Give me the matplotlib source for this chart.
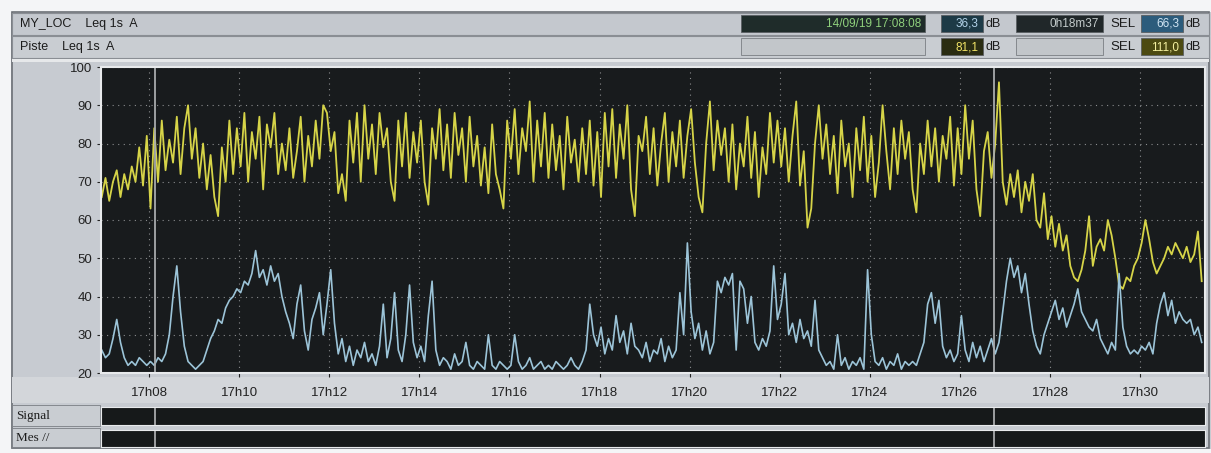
import numpy as np
import matplotlib
matplotlib.use("Agg")
import matplotlib.pyplot as plt
from matplotlib.patches import Rectangle

W, H = 1211, 453

# Leq 1s A levels (dB), one reading every 5 s starting 17:06:57
t_start = 6.95          # minutes after 17:00
t_step = 5 / 60

my_loc = [
    66, 71, 65, 70, 73, 66, 72, 68, 74, 70, 79, 69,
    82, 63, 84, 70, 86, 73, 81, 75, 87, 72, 84, 90,
    76, 84, 71, 80, 68, 77, 66, 61, 79, 70, 86, 72,
    84, 74, 88, 70, 83, 76, 87, 68, 85, 79, 88, 72,
    80, 73, 84, 71, 78, 87, 70, 82, 74, 86, 76, 90,
    88, 78, 83, 67, 72, 65, 86, 75, 88, 70, 90, 76,
    85, 72, 88, 79, 84, 70, 65, 86, 74, 88, 71, 83,
    75, 86, 70, 64, 84, 76, 89, 73, 85, 71, 88, 77,
    84, 70, 87, 74, 82, 69, 79, 67, 85, 72, 68, 63,
    86, 76, 89, 72, 84, 78, 91, 70, 86, 74, 88, 71,
    85, 73, 82, 68, 87, 75, 81, 70, 84, 72, 86, 69,
    83, 66, 88, 74, 89, 71, 85, 76, 90, 68, 61, 82,
    78, 87, 72, 84, 69, 80, 88, 70, 83, 74, 86, 71,
    82, 89, 75, 66, 62, 80, 91, 73, 86, 77, 84, 70,
    85, 68, 80, 74, 87, 71, 83, 66, 79, 72, 88, 75,
    86, 74, 84, 70, 82, 91, 69, 78, 58, 63, 80, 90,
    76, 85, 72, 82, 67, 86, 74, 80, 66, 84, 73, 87,
    70, 82, 66, 75, 90, 78, 68, 84, 72, 86, 76, 83,
    68, 62, 80, 72, 86, 74, 84, 70, 82, 76, 87, 69,
    84, 72, 90, 76, 86, 68, 61, 78, 83, 71, 80, 96,
    70, 64, 72, 66, 73, 62, 70, 65, 72, 60, 58, 67,
    55, 61, 53, 59, 52, 56, 48, 45, 44, 47, 52, 61,
    48, 53, 55, 52, 60, 56, 50, 43, 42, 45, 44, 48,
    50, 54, 60, 55, 49, 46, 48, 50, 53, 51, 54, 52,
    50, 53, 49, 51, 57, 44,
]

piste = [
    26, 24, 25, 29, 34, 28, 24, 22, 23, 22, 24, 23,
    22, 23, 22, 24, 23, 25, 30, 40, 48, 36, 27, 23,
    22, 21, 22, 23, 26, 29, 31, 34, 33, 37, 39, 40,
    42, 41, 44, 43, 46, 52, 45, 47, 43, 48, 44, 46,
    40, 36, 33, 29, 38, 43, 31, 26, 34, 37, 41, 30,
    38, 47, 33, 25, 29, 23, 27, 22, 26, 24, 28, 23,
    25, 22, 27, 38, 24, 29, 41, 26, 23, 30, 43, 28,
    24, 27, 23, 35, 44, 26, 22, 24, 23, 21, 25, 22,
    23, 28, 22, 21, 23, 22, 21, 30, 22, 21, 23, 22,
    21, 22, 30, 23, 21, 22, 24, 21, 22, 23, 21, 22,
    21, 23, 22, 21, 22, 24, 22, 21, 23, 26, 38, 30,
    27, 32, 25, 29, 26, 35, 28, 31, 25, 33, 27, 26,
    24, 28, 23, 26, 25, 29, 23, 27, 24, 26, 41, 30,
    54, 36, 29, 33, 26, 31, 25, 28, 44, 41, 45, 43,
    46, 26, 44, 42, 33, 40, 28, 26, 29, 27, 31, 48,
    34, 38, 46, 30, 33, 28, 34, 29, 31, 27, 39, 26,
    24, 22, 23, 21, 30, 22, 24, 21, 23, 22, 24, 21,
    47, 30, 23, 22, 24, 21, 23, 22, 25, 21, 23, 22,
    23, 22, 25, 28, 38, 41, 33, 39, 27, 24, 26, 23,
    25, 35, 26, 23, 28, 24, 27, 23, 26, 29, 25, 28,
    36, 44, 50, 45, 48, 41, 46, 38, 31, 27, 25, 30,
    33, 36, 39, 34, 37, 32, 35, 38, 42, 36, 34, 32,
    31, 34, 29, 27, 25, 28, 26, 46, 32, 27, 25, 26,
    25, 27, 26, 28, 25, 33, 38, 41, 35, 39, 33, 36,
    34, 33, 34, 30, 32, 28,
]

tick_minutes = [8, 10, 12, 14, 16, 18, 20, 22, 24, 26, 28, 30]
tick_labels = [f"17h{m:02d}" for m in tick_minutes]
y_ticks = [20, 30, 40, 50, 60, 70, 80, 90, 100]

# cursor: start time and elapsed duration shown in the header
cursor_start = 8 + 8 / 60
cursor_end = cursor_start + 18 + 37 / 60

times = t_start + t_step * np.arange(len(my_loc))

plt.rcParams['font.family'] = ['Liberation Sans', 'DejaVu Sans']

fig = plt.figure(figsize=(W / 100, H / 100), dpi=100)
fig.patch.set_facecolor('#c7cbd1')


def px_rect(x0, y0, x1, y1, **kw):
    """Rectangle given in pixel coordinates measured from the top-left."""
    kw.setdefault('zorder', -1)
    r = Rectangle((x0 / W, 1 - y1 / H), (x1 - x0) / W, (y1 - y0) / H,
                  transform=fig.transFigure, **kw)
    fig.patches.append(r)


def px_text(x, y, s, **kw):
    fig.text(x / W, 1 - y / H, s, va='center', **kw)


def px_axes(x0, y0, x1, y1):
    return fig.add_axes([x0 / W, 1 - y1 / H, (x1 - x0) / W, (y1 - y0) / H])


# window frame
px_rect(0, 0, W, 12, facecolor='#f4f5f7', edgecolor='none')
px_rect(0, 0, 11, H, facecolor='#f4f5f7', edgecolor='none')
px_rect(0, 449, W, H, facecolor='#f4f5f7', edgecolor='none')
px_rect(12, 12, W - 2, 448, facecolor='none', edgecolor='#6c7076', lw=1.2)

# header rows
px_rect(12, 13, W - 2, 35, facecolor='#c4c8ce', edgecolor='#8a8e94', lw=0.8)
px_rect(12, 36, W - 2, 58, facecolor='#c9cdd2', edgecolor='#8a8e94', lw=0.8)
px_rect(12, 59, W - 2, 62, facecolor='#e6e8ea', edgecolor='none')

hdr = dict(fontsize=9, color='#1c1c1c')
px_text(20, 24, "MY_LOC    Leq 1s  A", **hdr)
px_text(20, 47, "Piste    Leq 1s  A", **hdr)

# row 1 readouts
px_rect(741, 15, 925, 32, facecolor='#1f2c2a', edgecolor='#5a5e62', lw=0.6)
px_text(921, 24, "14/09/19 17:08:08", ha='right', fontsize=8.5, color='#8fd07c')
px_rect(941, 15, 983, 32, facecolor='#1d3a46', edgecolor='#5a5e62', lw=0.6)
px_text(978, 24, "36,3", ha='right', fontsize=8.5, color='#b4d4ea')
px_text(985, 24, "dB", **hdr)
px_rect(1016, 15, 1103, 32, facecolor='#202729', edgecolor='#5a5e62', lw=0.6)
px_text(1099, 24, "0h18m37", ha='right', fontsize=8.5, color='#c4cccc')
px_text(1110, 24, "SEL", fontsize=9.5, color='#1c1c1c')
px_rect(1141, 15, 1183, 32, facecolor='#2c5c7c', edgecolor='#5a5e62', lw=0.6)
px_text(1179, 24, "66,3", ha='right', fontsize=8.5, color='#d0e4f2')
px_text(1185, 24, "dB", **hdr)

# row 2 readouts
px_rect(741, 38, 925, 55, facecolor='#c2c6ca', edgecolor='#7a7e84', lw=0.6)
px_rect(941, 38, 983, 55, facecolor='#2a2c12', edgecolor='#5a5e62', lw=0.6)
px_text(978, 47, "81,1", ha='right', fontsize=8.5, color='#f2e466')
px_text(985, 47, "dB", **hdr)
px_rect(1016, 38, 1103, 55, facecolor='#c2c6ca', edgecolor='#7a7e84', lw=0.6)
px_text(1110, 47, "SEL", fontsize=9.5, color='#1c1c1c')
px_rect(1141, 38, 1183, 55, facecolor='#4c4a12', edgecolor='#5a5e62', lw=0.6)
px_text(1179, 47, "111,0", ha='right', fontsize=8.5, color='#f4f0a0')
px_text(1185, 47, "dB", **hdr)

# time axis strip and bottom rows
px_rect(12, 377, W - 2, 403, facecolor='#d3d6da', edgecolor='none')
px_rect(12, 405, 100, 426, facecolor='#c9cdd2', edgecolor='#7a7e84', lw=0.6)
px_rect(12, 428, 100, 447, facecolor='#c9cdd2', edgecolor='#7a7e84', lw=0.6)
px_text(16, 416, "Signal", fontsize=9.5, color='#1c1c1c', family='Liberation Serif')
px_text(16, 438, "Mes //", fontsize=9.5, color='#1c1c1c', family='Liberation Serif')

# main level plot
ax = px_axes(101, 67, 1205, 373)
ax.set_facecolor('#181b1d')
ax.plot(times, my_loc, color='#d6d448', lw=1.3)
ax.plot(times, piste, color='#9cc4d8', lw=1.2)
for t in (cursor_start, cursor_end):
    ax.axvline(t, color='#a8aaac', lw=1.3)

ax.set_xlim(6.934, 31.44)
ax.set_ylim(20, 100)
ax.set_yticks(y_ticks)
ax.set_xticks(tick_minutes)
ax.set_xticklabels(tick_labels)
ax.tick_params(axis='both', labelsize=9.5, colors='#222222', length=3, width=0.8)
ax.tick_params(axis='x', pad=7)
ax.grid(True, color='#8a8c8e', linestyle=(0, (1, 4)), lw=0.8)
for s in ax.spines.values():
    s.set_color('#e8eaec')
    s.set_linewidth(1.5)

# signal / measurement bars below, sharing the time axis
for y0, y1 in ((407, 425), (430, 447)):
    bar = px_axes(101, y0, 1205, y1)
    bar.set_facecolor('#16191a')
    bar.set_xlim(ax.get_xlim())
    bar.set_xticks([])
    bar.set_yticks([])
    for t in (cursor_start, cursor_end):
        bar.axvline(t, color='#a8aaac', lw=1.3)
    for s in bar.spines.values():
        s.set_color('#e8eaec')

fig.savefig("out.png", dpi=100, facecolor=fig.get_facecolor())
